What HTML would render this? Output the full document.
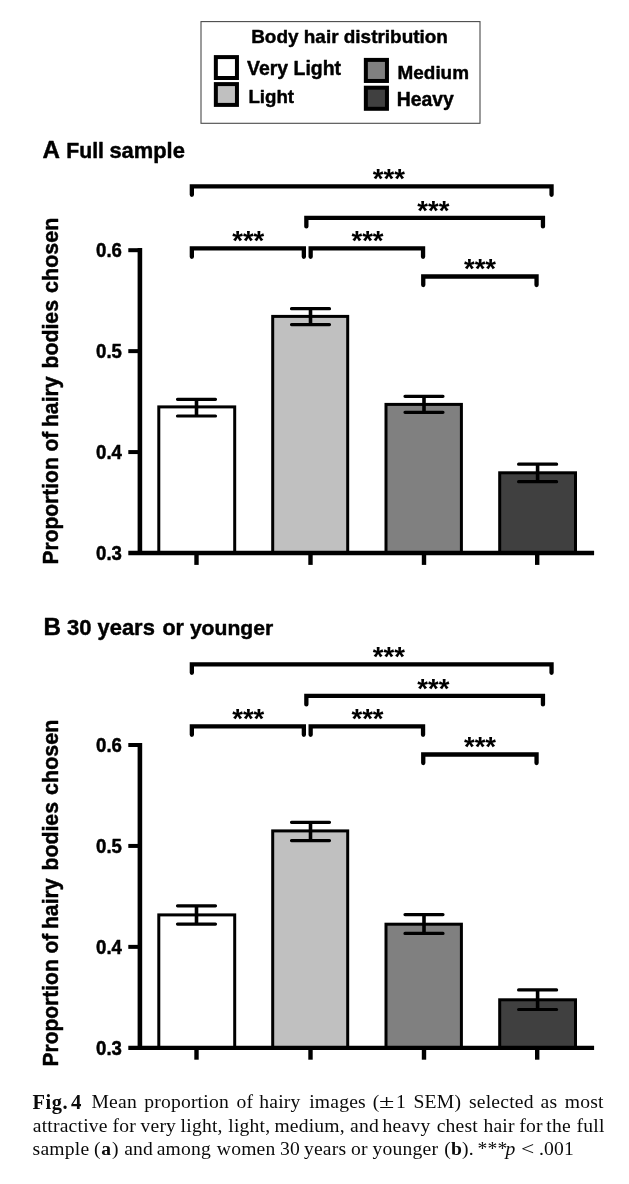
<!DOCTYPE html>
<html><head><meta charset="utf-8"><title>Fig. 4</title>
<style>
html,body{margin:0;padding:0;background:#fff;}
body{width:629px;height:1184px;position:relative;overflow:hidden;}
svg{position:absolute;left:0;top:0;}
svg text{font-family:"Liberation Sans",Arial,Helvetica,sans-serif;fill:#000;}
svg text.b{font-weight:bold;stroke:#000;stroke-width:0.45px;stroke-linejoin:round;}
svg text.s{stroke:none;}
.cap{position:absolute;left:0;top:0;width:629px;height:1184px;font-family:"Liberation Serif","Times New Roman",serif;font-size:19.6px;letter-spacing:0.2px;color:#0a0a0a;}
.cap .ln{position:absolute;left:0;width:629px;height:24px;line-height:24px;white-space:nowrap;}
.cap .ln span{position:absolute;top:0;}
.cap .ln span.w{position:static;}
.cap b{font-weight:bold;}
</style></head><body>
<svg width="629" height="1184" viewBox="0 0 629 1184">

<rect x="201.0" y="21.6" width="279" height="101.7" fill="#fff" stroke="#4a4a4a" stroke-width="1.1"/>
<text x="251.2" y="43.1" font-size="18.95" class="b">Body hair distribution</text>
<rect x="215.85" y="57.1" width="21.1" height="20.9" fill="#fff" stroke="#000" stroke-width="4"/>
<rect x="215.85" y="84.1" width="21.1" height="20.8" fill="#c0c0c0" stroke="#000" stroke-width="4"/>
<rect x="365.85" y="59.9" width="21.1" height="21.06" fill="#808080" stroke="#000" stroke-width="4"/>
<rect x="365.85" y="87.7" width="21.1" height="21.1" fill="#404040" stroke="#000" stroke-width="4"/>
<text x="247.1" y="75.4" font-size="19.45" class="b">Very Light</text>
<text x="248.4" y="102.6" font-size="18.7" class="b">Light</text>
<text x="397.6" y="79.4" font-size="18.9" class="b">Medium</text>
<text x="396.7" y="106.1" font-size="19.4" class="b">Heavy</text>

<text x="42.6" y="157.7" font-size="24.2" class="b">A</text>
<text x="66.3" y="157.7" font-size="21.2" class="b">Full</text>
<text x="109.4" y="157.7" font-size="21.9" class="b">sample</text>
<text transform="translate(57.9,564.50) rotate(-90) scale(1,1.03)" font-size="21.0" class="b">Proportion</text>
<text transform="translate(57.9,451.60) rotate(-90) scale(1,1.03)" font-size="21.1" class="b">of</text>
<text transform="translate(57.9,427.10) rotate(-90) scale(1,1.03)" font-size="21.2" class="b">hairy</text>
<text transform="translate(57.9,368.60) rotate(-90) scale(1,1.03)" font-size="21.3" class="b">bodies</text>
<text transform="translate(57.9,292.90) rotate(-90) scale(1,1.03)" font-size="21.5" class="b">chosen</text>
<rect x="158.80" y="406.90" width="75.90" height="146.10" fill="#ffffff" stroke="#000" stroke-width="3"/>
<path d="M177.50 399.30H215.50M177.50 416.00H215.50" stroke="#000" stroke-width="3.2" stroke-linecap="round" fill="none"/>
<path d="M196.50 399.30V416.00" stroke="#000" stroke-width="3.6" fill="none"/>
<rect x="272.70" y="316.40" width="75.00" height="236.60" fill="#c0c0c0" stroke="#000" stroke-width="3"/>
<path d="M291.50 308.70H329.50M291.50 324.60H329.50" stroke="#000" stroke-width="3.2" stroke-linecap="round" fill="none"/>
<path d="M310.50 308.70V324.60" stroke="#000" stroke-width="3.6" fill="none"/>
<rect x="386.00" y="404.40" width="75.40" height="148.60" fill="#808080" stroke="#000" stroke-width="3"/>
<path d="M405.00 396.30H443.00M405.00 412.30H443.00" stroke="#000" stroke-width="3.2" stroke-linecap="round" fill="none"/>
<path d="M424.00 396.30V412.30" stroke="#000" stroke-width="3.6" fill="none"/>
<rect x="499.70" y="472.80" width="75.80" height="80.20" fill="#404040" stroke="#000" stroke-width="3"/>
<path d="M518.60 464.20H556.60M518.60 481.70H556.60" stroke="#000" stroke-width="3.2" stroke-linecap="round" fill="none"/>
<path d="M537.60 464.20V481.70" stroke="#000" stroke-width="3.6" fill="none"/>
<path d="M139.9 248.10V555.00" stroke="#000" stroke-width="4.6" fill="none"/>
<path d="M128.3 553.00H594.1" stroke="#000" stroke-width="4.3" fill="none"/>
<path d="M128.3 250.20H140" stroke="#000" stroke-width="4" fill="none"/>
<path d="M128.3 351.13H140" stroke="#000" stroke-width="4" fill="none"/>
<path d="M128.3 452.07H140" stroke="#000" stroke-width="4" fill="none"/>
<text transform="translate(121.9,257.20) scale(1,1.06)" font-size="18.6" text-anchor="end" class="b">0.6</text>
<text transform="translate(121.9,358.13) scale(1,1.06)" font-size="18.6" text-anchor="end" class="b">0.5</text>
<text transform="translate(121.9,459.07) scale(1,1.06)" font-size="18.6" text-anchor="end" class="b">0.4</text>
<text transform="translate(121.9,560.00) scale(1,1.06)" font-size="18.6" text-anchor="end" class="b">0.3</text>
<path d="M196.5 553.00V564.90" stroke="#000" stroke-width="4.4" fill="none"/>
<path d="M310.5 553.00V564.90" stroke="#000" stroke-width="4.4" fill="none"/>
<path d="M424.0 553.00V564.90" stroke="#000" stroke-width="4.4" fill="none"/>
<path d="M537.2 553.00V564.90" stroke="#000" stroke-width="4.4" fill="none"/>
<path d="M191.85 194.80V186.30H551.55V194.80" stroke="#000" stroke-width="4.3" stroke-linecap="round" stroke-linejoin="miter" fill="none"/>
<text x="388.90" y="188.20" font-size="27.5" text-anchor="middle" class="b s">***</text>
<path d="M306.35 226.40V217.90H542.95V226.40" stroke="#000" stroke-width="4.3" stroke-linecap="round" stroke-linejoin="miter" fill="none"/>
<text x="433.30" y="219.80" font-size="27.5" text-anchor="middle" class="b s">***</text>
<path d="M191.85 256.80V248.30H303.85V256.80" stroke="#000" stroke-width="4.3" stroke-linecap="round" stroke-linejoin="miter" fill="none"/>
<text x="248.25" y="250.20" font-size="27.5" text-anchor="middle" class="b s">***</text>
<path d="M310.65 256.80V248.30H423.05V256.80" stroke="#000" stroke-width="4.3" stroke-linecap="round" stroke-linejoin="miter" fill="none"/>
<text x="367.50" y="250.20" font-size="27.5" text-anchor="middle" class="b s">***</text>
<path d="M423.25 285.00V276.50H536.55V285.00" stroke="#000" stroke-width="4.3" stroke-linecap="round" stroke-linejoin="miter" fill="none"/>
<text x="480.00" y="278.40" font-size="27.5" text-anchor="middle" class="b s">***</text>
<text x="43.5" y="635.4" font-size="24.2" class="b">B</text>
<text x="66.9" y="634.6" font-size="22.0" class="b">30</text>
<text x="97.6" y="634.6" font-size="21.9" class="b">years</text>
<text x="162.4" y="634.6" font-size="21.5" class="b">or</text>
<text x="189.9" y="634.6" font-size="21.1" class="b">younger</text>
<text transform="translate(57.9,1066.50) rotate(-90) scale(1,1.03)" font-size="21.0" class="b">Proportion</text>
<text transform="translate(57.9,953.60) rotate(-90) scale(1,1.03)" font-size="21.1" class="b">of</text>
<text transform="translate(57.9,929.10) rotate(-90) scale(1,1.03)" font-size="21.2" class="b">hairy</text>
<text transform="translate(57.9,870.60) rotate(-90) scale(1,1.03)" font-size="21.3" class="b">bodies</text>
<text transform="translate(57.9,794.90) rotate(-90) scale(1,1.03)" font-size="21.5" class="b">chosen</text>
<rect x="158.80" y="914.90" width="75.90" height="132.90" fill="#ffffff" stroke="#000" stroke-width="3"/>
<path d="M177.50 905.80H215.50M177.50 924.10H215.50" stroke="#000" stroke-width="3.2" stroke-linecap="round" fill="none"/>
<path d="M196.50 905.80V924.10" stroke="#000" stroke-width="3.6" fill="none"/>
<rect x="272.70" y="830.90" width="75.00" height="216.90" fill="#c0c0c0" stroke="#000" stroke-width="3"/>
<path d="M291.50 822.30H329.50M291.50 840.60H329.50" stroke="#000" stroke-width="3.2" stroke-linecap="round" fill="none"/>
<path d="M310.50 822.30V840.60" stroke="#000" stroke-width="3.6" fill="none"/>
<rect x="386.00" y="924.20" width="75.40" height="123.60" fill="#808080" stroke="#000" stroke-width="3"/>
<path d="M405.00 914.60H443.00M405.00 933.40H443.00" stroke="#000" stroke-width="3.2" stroke-linecap="round" fill="none"/>
<path d="M424.00 914.60V933.40" stroke="#000" stroke-width="3.6" fill="none"/>
<rect x="499.70" y="999.80" width="75.80" height="48.00" fill="#404040" stroke="#000" stroke-width="3"/>
<path d="M518.60 989.90H556.60M518.60 1009.50H556.60" stroke="#000" stroke-width="3.2" stroke-linecap="round" fill="none"/>
<path d="M537.60 989.90V1009.50" stroke="#000" stroke-width="3.6" fill="none"/>
<path d="M139.9 742.90V1049.80" stroke="#000" stroke-width="4.6" fill="none"/>
<path d="M128.3 1047.80H594.1" stroke="#000" stroke-width="4.3" fill="none"/>
<path d="M128.3 745.00H140" stroke="#000" stroke-width="4" fill="none"/>
<path d="M128.3 845.93H140" stroke="#000" stroke-width="4" fill="none"/>
<path d="M128.3 946.87H140" stroke="#000" stroke-width="4" fill="none"/>
<text transform="translate(121.9,752.00) scale(1,1.06)" font-size="18.6" text-anchor="end" class="b">0.6</text>
<text transform="translate(121.9,852.93) scale(1,1.06)" font-size="18.6" text-anchor="end" class="b">0.5</text>
<text transform="translate(121.9,953.87) scale(1,1.06)" font-size="18.6" text-anchor="end" class="b">0.4</text>
<text transform="translate(121.9,1054.80) scale(1,1.06)" font-size="18.6" text-anchor="end" class="b">0.3</text>
<path d="M196.5 1047.80V1059.70" stroke="#000" stroke-width="4.4" fill="none"/>
<path d="M310.5 1047.80V1059.70" stroke="#000" stroke-width="4.4" fill="none"/>
<path d="M424.0 1047.80V1059.70" stroke="#000" stroke-width="4.4" fill="none"/>
<path d="M537.2 1047.80V1059.70" stroke="#000" stroke-width="4.4" fill="none"/>
<path d="M191.85 672.80V664.30H551.55V672.80" stroke="#000" stroke-width="4.3" stroke-linecap="round" stroke-linejoin="miter" fill="none"/>
<text x="388.90" y="666.20" font-size="27.5" text-anchor="middle" class="b s">***</text>
<path d="M306.35 704.40V695.90H542.95V704.40" stroke="#000" stroke-width="4.3" stroke-linecap="round" stroke-linejoin="miter" fill="none"/>
<text x="433.30" y="697.80" font-size="27.5" text-anchor="middle" class="b s">***</text>
<path d="M191.85 734.80V726.30H303.85V734.80" stroke="#000" stroke-width="4.3" stroke-linecap="round" stroke-linejoin="miter" fill="none"/>
<text x="248.25" y="728.20" font-size="27.5" text-anchor="middle" class="b s">***</text>
<path d="M310.65 734.80V726.30H423.05V734.80" stroke="#000" stroke-width="4.3" stroke-linecap="round" stroke-linejoin="miter" fill="none"/>
<text x="367.50" y="728.20" font-size="27.5" text-anchor="middle" class="b s">***</text>
<path d="M423.25 763.00V754.50H536.55V763.00" stroke="#000" stroke-width="4.3" stroke-linecap="round" stroke-linejoin="miter" fill="none"/>
<text x="480.00" y="756.40" font-size="27.5" text-anchor="middle" class="b s">***</text>
</svg>
<div class="cap"><div class="ln" style="top:1089.9px"><span style="left:32.6px"><b style="font-size:20.4px;letter-spacing:0.5px">Fig.</b></span><span style="left:71.0px"><b style="font-size:20.8px">4</b></span><span style="left:91.5px">Mean</span><span style="left:144.2px">proportion</span><span style="left:236.4px">of</span><span style="left:259.3px">hairy</span><span style="left:309.2px">images</span><span style="left:372.7px">(</span><span style="left:379.3px"><span class="w" style="display:inline-block;transform:scaleX(1.42);transform-origin:0 50%">±</span></span><span style="left:396.1px">1</span><span style="left:413.5px">SEM)</span><span style="left:469.0px">selected</span><span style="left:540.6px">as</span><span style="left:564.8px">most</span></div><div class="ln" style="top:1114.0px"><span style="left:32.8px">attractive</span><span style="left:112.5px">for</span><span style="left:140.5px">very</span><span style="left:180.6px">light,</span><span style="left:228.3px">light,</span><span style="left:274.4px">medium,</span><span style="left:350.0px">and</span><span style="left:382.6px">heavy</span><span style="left:436.7px">chest</span><span style="left:483.4px">hair</span><span style="left:519.3px">for</span><span style="left:546.3px">the</span><span style="left:576.6px">full</span></div><div class="ln" style="top:1136.8px"><span style="left:32.6px">sample</span><span style="left:94.0px"><span class="w" style="letter-spacing:0.8px">(<b>a</b>)</span></span><span style="left:124.2px">and</span><span style="left:156.7px">among</span><span style="left:216.8px">women</span><span style="left:280.1px">30</span><span style="left:303.9px">years</span><span style="left:351.0px">or</span><span style="left:372.6px">younger</span><span style="left:444.2px">(<b>b</b>).</span><span style="left:477.5px">***</span><span style="left:505.5px"><i>p</i></span><span style="left:521.2px"><span class="w" style="display:inline-block;transform:scaleX(1.2);transform-origin:0 50%">&lt;</span></span><span style="left:538.9px">.001</span></div></div>
</body></html>
